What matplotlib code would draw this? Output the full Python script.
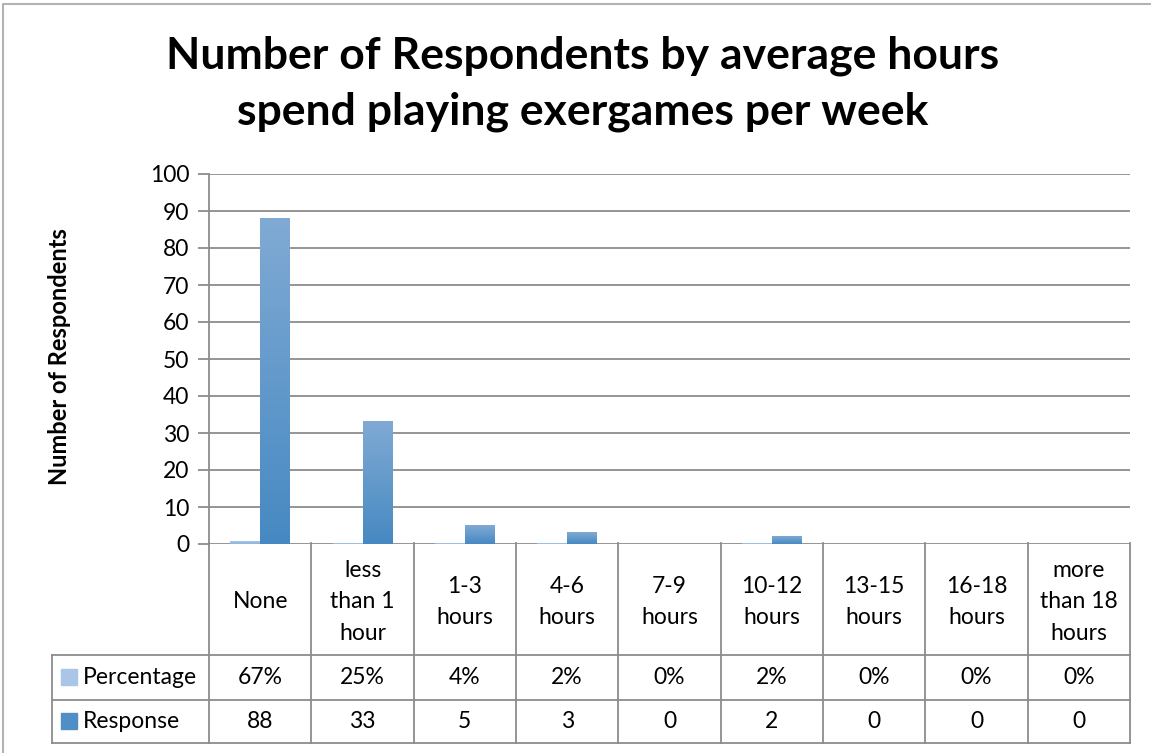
import numpy as np
import matplotlib.pyplot as plt
from matplotlib.lines import Line2D
from matplotlib.patches import Rectangle

categories = ['None', 'less\nthan 1\nhour', '1-3\nhours', '4-6\nhours', '7-9\nhours',
              '10-12\nhours', '13-15\nhours', '16-18\nhours', 'more\nthan 18\nhours']
percentage = [0.67, 0.25, 0.04, 0.02, 0.0, 0.02, 0.0, 0.0, 0.0]
response = [88, 33, 5, 3, 0, 2, 0, 0, 0]
yticks = list(range(0, 101, 10))

W, H = 1151, 753
plt.rcParams['font.family'] = ['Lato', 'DejaVu Sans']

fig = plt.figure(figsize=(W / 100, H / 100), dpi=100)


def fx(x):
    return x / W


def fy(y):
    return 1 - y / H


# plot area in pixel coords
L, R, T, B = 209, 1130, 174, 544
ax = fig.add_axes([fx(L), fy(B), (R - L) / W, (B - T) / H])

grid_c = '#8c8c8c'
n = len(categories)
bw = 0.29
fs = 16.5


def grad_bar(x0, h, top, bot):
    if h <= 0:
        return
    g = np.linspace(0, 1, 100).reshape(-1, 1)
    c1 = np.array(plt.matplotlib.colors.to_rgb(top))
    c2 = np.array(plt.matplotlib.colors.to_rgb(bot))
    img = (c1 * (1 - g[..., None]) + c2 * g[..., None])
    ax.imshow(img, extent=[x0, x0 + bw, 0, h], aspect='auto', origin='upper',
              zorder=3, interpolation='bilinear')


for i in range(n):
    grad_bar(i - bw, percentage[i], '#a9c6e6', '#8db3dd')
    grad_bar(i, response[i], '#80aad4', '#4689c2')

ax.set_xlim(-0.5, n - 0.5)
ax.set_ylim(0, 100)
ax.set_yticks(yticks)
ax.set_xticks([])
for y in yticks:
    ax.axhline(y, color=grid_c, lw=1.3, zorder=1)
for s in ['top', 'right', 'bottom']:
    ax.spines[s].set_visible(False)
ax.spines['left'].set_color(grid_c)
ax.spines['left'].set_linewidth(1.3)
ax.tick_params(axis='y', length=8, width=1.3, color=grid_c, labelsize=fs, pad=6)
fig.text(fx(60), fy(357), 'Number of Respondents', rotation=90, ha='center', va='center',
         fontsize=17, fontweight='bold')

fig.suptitle('Number of Respondents by average hours\nspend playing exergames per week',
             x=fx(583), y=fy(36), fontsize=32, fontweight='bold', va='top', linespacing=1.45)

# data table
def hline(y, x0, x1):
    fig.add_artist(Line2D([fx(x0), fx(x1)], [fy(y), fy(y)], color=grid_c, lw=1.3))


def vline(x, y0, y1):
    fig.add_artist(Line2D([fx(x), fx(x)], [fy(y0), fy(y1)], color=grid_c, lw=1.3))


r1, r2, r3 = 655, 700, 743
colw = (R - L) / n
for y in (r1, r2, r3):
    hline(y, 52, R)
vline(52, r1, r3)
for i in range(n + 1):
    vline(L + i * colw, B - 1, r3)

for i, cat in enumerate(categories):
    cx = L + (i + 0.5) * colw
    fig.text(fx(cx), fy(602), cat, ha='center', va='center', fontsize=fs, linespacing=1.6)
    fig.text(fx(cx), fy((r1 + r2) / 2), f'{percentage[i]:.0%}', ha='center', va='center', fontsize=fs)
    fig.text(fx(cx), fy((r2 + r3) / 2), f'{response[i]}', ha='center', va='center', fontsize=fs)

for name, col, y in (('Percentage', '#a9c6e6', (r1 + r2) / 2), ('Response', '#4f8fc6', (r2 + r3) / 2)):
    fig.add_artist(Rectangle((fx(61), fy(y + 7)), 16 / W, 16 / H, color=col))
    fig.text(fx(83), fy(y), name, ha='left', va='center', fontsize=fs)

# chart border
fig.add_artist(Line2D([fx(3), fx(3), fx(W)], [fy(H), fy(4), fy(4)], color='#b3b3b3', lw=1.5))

fig.savefig('out.png', dpi=100)
